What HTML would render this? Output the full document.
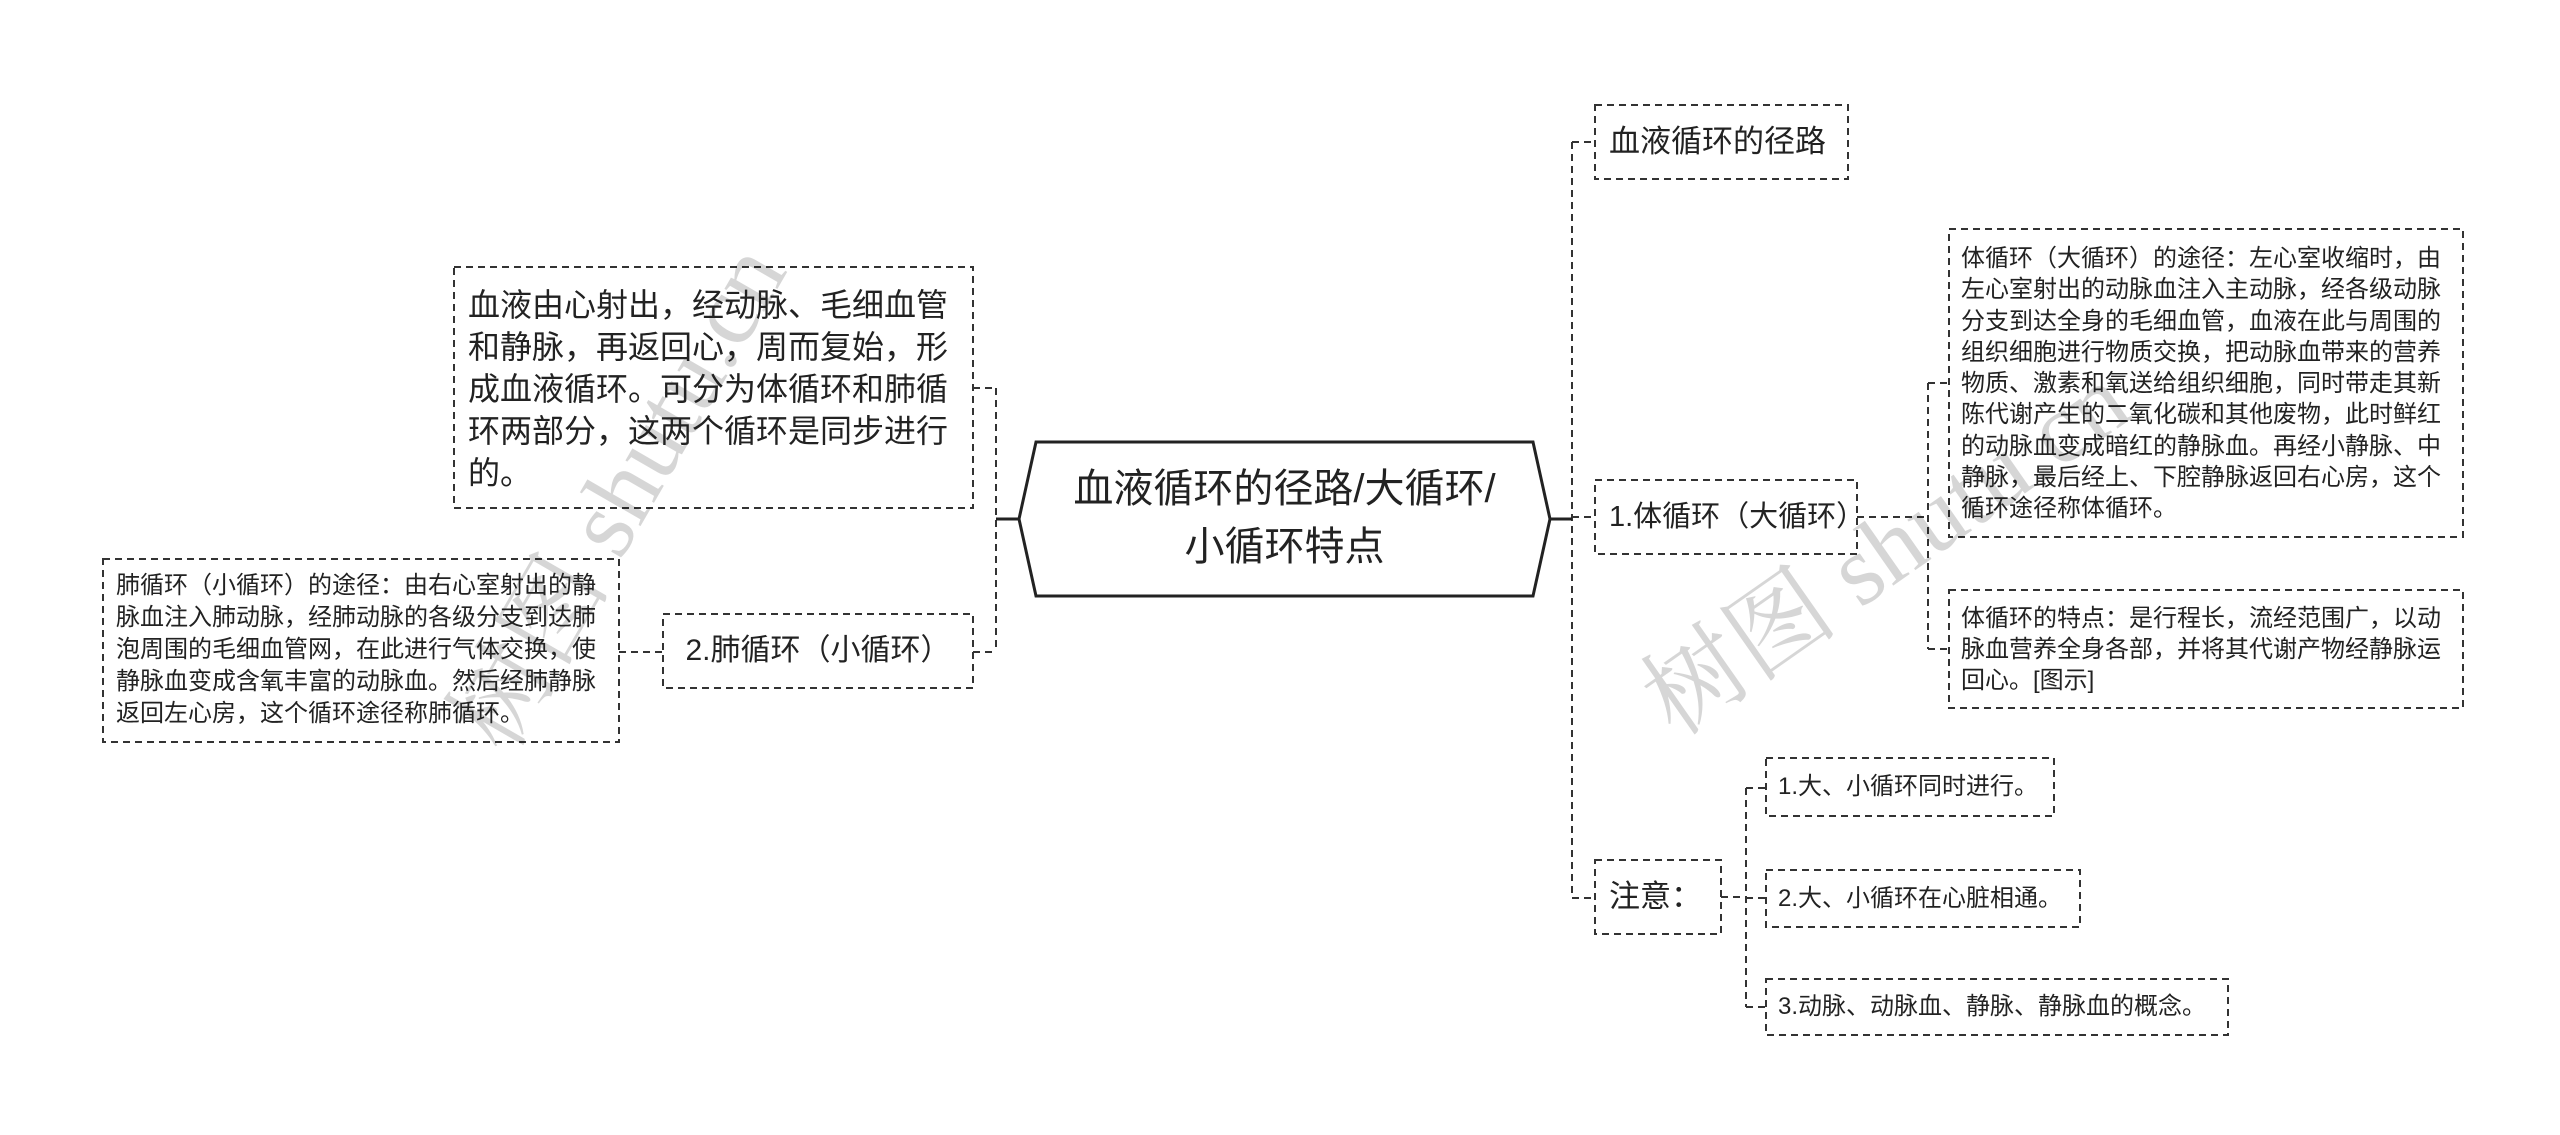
<!DOCTYPE html>
<html><head><meta charset="utf-8">
<style>
html,body{margin:0;padding:0;background:#fff;}
body{width:2560px;height:1135px;position:relative;overflow:hidden;font-family:"Liberation Sans","Noto Sans CJK SC",sans-serif;color:#222;}
.t{position:absolute;box-sizing:border-box;}
.wm{position:absolute;font-family:"Liberation Serif","Noto Serif CJK SC",serif;color:rgba(0,0,0,0.16);font-size:100px;white-space:nowrap;}
</style></head><body>
<svg width="2560" height="1135" style="position:absolute;left:0;top:0">
<g fill="none" stroke="#333" stroke-width="2" stroke-dasharray="7,5">
<rect x="454" y="267" width="519" height="241"/>
<rect x="663" y="614" width="310" height="74"/>
<rect x="103" y="559" width="516" height="183"/>
<rect x="1595" y="105" width="253" height="74"/>
<rect x="1595" y="480" width="262" height="74"/>
<rect x="1949" y="229" width="514" height="308"/>
<rect x="1949" y="590" width="514" height="118"/>
<rect x="1595" y="860" width="126" height="74"/>
<rect x="1766" y="758" width="288" height="58"/>
<rect x="1766" y="870" width="314" height="57"/>
<rect x="1766" y="979" width="462" height="56"/>
<path d="M996 388 V652 M973 388 H996 M973 652 H996 M619 652 H663"/>
<path d="M1572 142 V898 M1572 142 H1595 M1572 517 H1595 M1572 898 H1595"/>
<path d="M1928 383 V649 M1857 517 H1928 M1928 383 H1949 M1928 649 H1949"/>
<path d="M1746 788 V1007 M1721 897 H1746 M1746 788 H1766 M1746 898 H1766 M1746 1007 H1766"/>
</g>
<g stroke="#222" stroke-width="3" fill="none">
<path d="M996 519 H1019 M1550 519 H1572"/>
<polygon points="1036,442 1533,442 1550,519 1533,596 1036,596 1019,519" fill="#fff"/>
</g>
</svg>
<div class="wm" style="left:330px;top:420px;transform:rotate(-60deg);transform-origin:center;">树图 shutu.cn</div>
<div class="wm" style="left:1600px;top:470px;transform:rotate(-35deg);transform-origin:center;">树图 shutu.cn</div>
<div class="t" style="left:1019px;top:460px;width:531px;text-align:center;font-size:40px;line-height:58px;">血液循环的径路/大循环/<br>小循环特点</div>
<div class="t" style="left:468px;top:284px;width:500px;font-size:32px;line-height:42px;">血液由心射出，经动脉、毛细血管和静脉，再返回心，周而复始，形成血液循环。可分为体循环和肺循环两部分，这两个循环是同步进行的。</div>
<div class="t" style="left:663px;top:614px;width:310px;height:74px;font-size:30px;line-height:74px;text-align:center;">2.肺循环（小循环）</div>
<div class="t" style="left:116px;top:570px;width:500px;font-size:24px;line-height:32px;">肺循环（小循环）的途径：由右心室射出的静脉血注入肺动脉，经肺动脉的各级分支到达肺泡周围的毛细血管网，在此进行气体交换，使静脉血变成含氧丰富的动脉血。然后经肺静脉返回左心房，这个循环途径称肺循环。</div>
<div class="t" style="left:1609px;top:105px;font-size:31px;line-height:74px;">血液循环的径路</div>
<div class="t" style="left:1609px;top:480px;font-size:29px;line-height:74px;">1.体循环（大循环）</div>
<div class="t" style="left:1961px;top:243px;width:496px;font-size:24px;line-height:31.3px;">体循环（大循环）的途径：左心室收缩时，由左心室射出的动脉血注入主动脉，经各级动脉分支到达全身的毛细血管，血液在此与周围的组织细胞进行物质交换，把动脉血带来的营养物质、激素和氧送给组织细胞，同时带走其新陈代谢产生的二氧化碳和其他废物，此时鲜红的动脉血变成暗红的静脉血。再经小静脉、中静脉，最后经上、下腔静脉返回右心房，这个循环途径称体循环。</div>
<div class="t" style="left:1961px;top:603px;width:496px;font-size:24px;line-height:31px;">体循环的特点：是行程长，流经范围广，以动脉血营养全身各部，并将其代谢产物经静脉运回心。[图示]</div>
<div class="t" style="left:1609px;top:860px;font-size:31px;line-height:74px;">注意：</div>
<div class="t" style="left:1778px;top:758px;font-size:24px;line-height:58px;">1.大、小循环同时进行。</div>
<div class="t" style="left:1778px;top:870px;font-size:24px;line-height:57px;">2.大、小循环在心脏相通。</div>
<div class="t" style="left:1778px;top:979px;font-size:24px;line-height:56px;">3.动脉、动脉血、静脉、静脉血的概念。</div>
</body></html>
